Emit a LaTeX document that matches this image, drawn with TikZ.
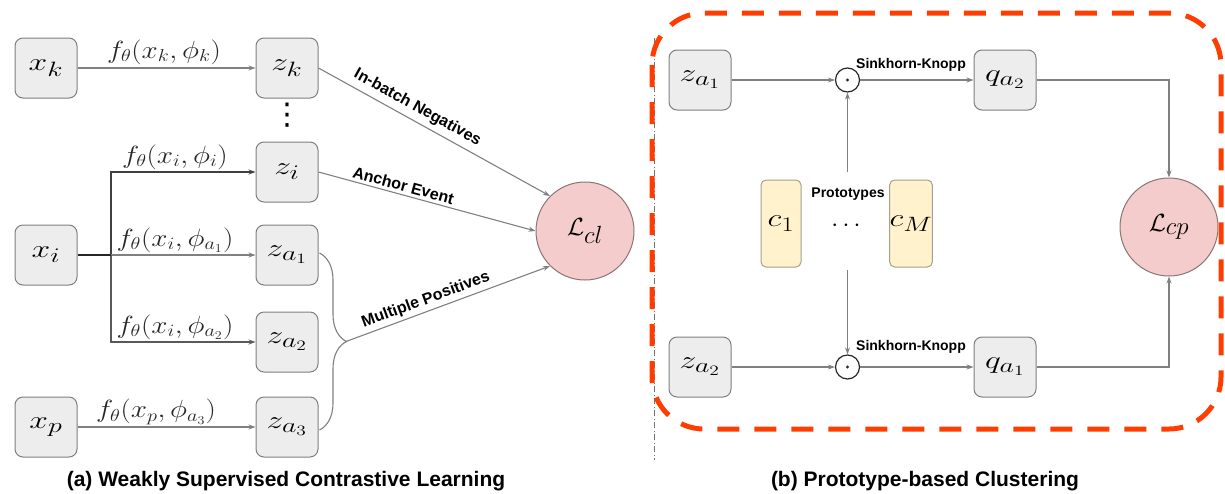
\documentclass[tikz,border=0pt]{standalone}
\usepackage{fontspec}
\usepackage{graphicx}
\setsansfont{Liberation Sans}
\newfontfamily\djvfont{DejaVu Sans}
\usetikzlibrary{arrows.meta,decorations.pathreplacing,calc}

\definecolor{boxfill}{HTML}{EDEDED}
\definecolor{boxdraw}{HTML}{7F7F7F}
\definecolor{linec}{HTML}{808080}
\definecolor{lossfill}{HTML}{F4CCCC}
\definecolor{lossdraw}{HTML}{8A7474}
\definecolor{protofill}{HTML}{FFF2CC}
\definecolor{protodraw}{HTML}{A89F8A}
\definecolor{redd}{HTML}{FF3D00}

\newcommand{\widetext}[2][1.35]{\scalebox{#1}[1]{#2}}

\begin{document}
\begin{tikzpicture}[x=1pt,y=-1pt,
  bx/.style={draw=boxdraw, fill=boxfill, rounded corners=8pt, minimum width=62pt, minimum height=60pt, line width=1pt, inner sep=0pt, font=\fontsize{31}{36}\selectfont},
  loss/.style={circle, draw=lossdraw, fill=lossfill, minimum size=98pt, inner sep=0pt, line width=1pt, font=\fontsize{35}{38}\selectfont},
  proto/.style={draw=protodraw, fill=protofill, rounded corners=5pt, minimum width=40pt, minimum height=87pt, line width=1pt, inner sep=0pt, font=\fontsize{30}{34}\selectfont},
  conn/.style={draw=linec, line width=1.1pt, -{Stealth[length=7pt,width=5pt]}},
  darkconn/.style={conn, draw=black!75},
  plain/.style={draw=linec, line width=1.1pt},
  fl/.style={font=\fontsize{23}{26}\selectfont, text=black!85, inner sep=0pt},
  tag/.style={font=\sffamily\bfseries\fontsize{16}{18}\selectfont, inner sep=1pt},
  smalltag/.style={font=\sffamily\bfseries\fontsize{14}{16}\selectfont, inner sep=0pt},
  captext/.style={font=\sffamily\bfseries\fontsize{21}{24}\selectfont, anchor=base, inner sep=0pt},
  odotc/.style={circle, draw=black!85, line width=1.2pt, minimum size=24pt, inner sep=0pt},
]
\useasboundingbox (0,0) rectangle (1225,493);

% ---------------- (a) left panel ----------------
\node[bx] (xk) at (46,68) {\widetext{$x_k$}};
\node[bx] (zk) at (287,68) {\widetext{$z_k$}};
\node[inner sep=0pt, font=\djvfont\fontsize{30}{30}\selectfont] (vd) at (287,115) {⋮};
\node[bx] (zi) at (287,172) {\widetext{$z_i$}};
\node[bx] (xi) at (46,255) {\widetext{$x_i$}};
\node[bx] (za1) at (287,255) {\widetext{$z_{a_1}$}};
\node[bx] (za2) at (287,342) {\widetext{$z_{a_2}$}};
\node[bx] (xp) at (46,427) {\widetext{$x_p$}};
\node[bx] (za3) at (287,427) {\widetext{$z_{a_3}$}};
\node[loss] (Lcl) at (585,231) {$\mathcal{L}_{cl}$};

\coordinate (jn) at (111,255);

\draw[conn] (xk) -- (zk);
\node[fl] (fk) at (164,52) {\widetext[1.17]{$f_\theta(x_k,\phi_k)$}};

\draw[darkconn] (jn) |- (zi);
\node[fl] (fi) at (175,157) {\widetext[1.17]{$f_\theta(x_i,\phi_i)$}};

\draw[conn] (jn) -- (za1);
\node[fl] (fa1) at (175,240) {\widetext[1.17]{$f_\theta(x_i,\phi_{a_1})$}};

\draw[conn, draw=black!65] (jn) |- (za2);
\node[fl] (fa2) at (175,327) {\widetext[1.17]{$f_\theta(x_i,\phi_{a_2})$}};

\draw[draw=black!85, line width=2pt] (xi) -- (jn);

\draw[conn] (xp) -- (za3);
\node[fl] (fp) at (156,412) {\widetext[1.17]{$f_\theta(x_p,\phi_{a_3})$}};

\draw[conn] (zk.east) -- node[tag, sloped, above=4pt, pos=0.40] {In-batch Negatives} (Lcl.135);
\draw[conn] (zi.east) -- node[tag, sloped, above=2pt, pos=0.38] {Anchor Event} (Lcl.180);

\coordinate (bt) at ($(za1.east)+(1,-2)$);
\coordinate (bb) at ($(za3.east)+(1,3)$);
\coordinate (tip) at (346,341.5);
\draw[plain, decorate, decoration={brace, amplitude=27pt}] (bt) -- (bb);
\draw[conn] (tip) -- node[tag, sloped, above=2pt, pos=0.41] {Multiple Positives} (Lcl.225);

\node[captext] (capa) at (286,486) {(a) Weakly Supervised Contrastive Learning};

% ---------------- (b) right panel ----------------
\draw[draw=black!55, line width=0.8pt, dash pattern=on 6pt off 2.5pt on 1pt off 2.5pt] (654,38) -- (654,460);
\draw[draw=redd, line width=5pt, rounded corners=52pt, dash pattern=on 22pt off 15pt] (652,13) rectangle (1221,429);

\node[bx] (za1r) at (700,80) {\widetext{$z_{a_1}$}};
\node[odotc] (o1) at (847.5,80) {};
\fill[black!85] (o1.center) circle (1.6pt);
\node[bx] (qa2) at (1005,80) {\widetext{$q_{a_2}$}};
\node[loss] (Lcp) at (1169,227) {$\mathcal{L}_{cp}$};

\node[proto] (c1) at (781,223.5) {\widetext[1.3]{$c_1$}};
\node[proto] (cM) at (911,223.5) {\widetext[1.3]{$c_M$}};
\node[smalltag] (prot) at (848,194) {Prototypes};
\node[font=\fontsize{28}{30}\selectfont] (cd) at (846,226) {$\cdots$};
\coordinate (ptop) at (847.5,172);
\coordinate (pbot) at (847.5,270);

\node[bx] (za2r) at (700,367) {\widetext{$z_{a_2}$}};
\node[odotc] (o2) at (847.5,367) {};
\fill[black!85] (o2.center) circle (1.6pt);
\node[bx] (qa1) at (1005,367) {\widetext{$q_{a_1}$}};

\draw[conn] (za1r) -- (o1);
\draw[conn] (o1) -- (qa2);
\node[smalltag] (sk1) at (911,65) {Sinkhorn-Knopp};
\draw[conn] (ptop) -- (o1);
\draw[conn] (pbot) -- (o2);
\draw[conn] (za2r) -- (o2);
\draw[conn] (o2) -- (qa1);
\node[smalltag] (sk2) at (911,347) {Sinkhorn-Knopp};
\draw[conn] (qa2) -| (Lcp);
\draw[conn] (qa1) -| (Lcp);

\node[captext] (capb) at (925,486) {(b) Prototype-based Clustering};
\end{tikzpicture}
\end{document}
